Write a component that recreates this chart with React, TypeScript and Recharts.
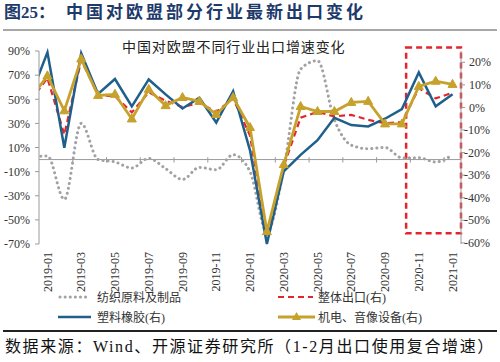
import React from 'react';
import { LineChart, Line, XAxis, YAxis, ReferenceLine, ReferenceArea } from 'recharts';

const months = [
  '2018-12',
  '2019-01', '2019-02', '2019-03', '2019-04', '2019-05', '2019-06', '2019-07', '2019-08', '2019-09', '2019-10', '2019-11', '2019-12',
  '2020-01', '2020-02', '2020-03', '2020-04', '2020-05', '2020-06', '2020-07', '2020-08', '2020-09', '2020-10', '2020-11', '2020-12',
  '2021-01',
];

// 纺织原料及制品 (left axis, %)
const textile = [2, 3, -33, 30, 0, -2, -7, 1, -7.5, -16.5, -6.5, -8.5, 4, -10, -60, -8, 75, 82, 33, 12, 9, 10, 1.5, 1.5, -2, 4];
// 整体出口(右)
const overall = [3, 13, -12, 21, 5.5, 5, -2.2, 6.7, 3, 0.2, 2, -2, 4, -12.5, -57, -26, -4.5, -2, -4, -3.3, -5.5, -7, -6.5, 8.5, 4, 6.5];
// 塑料橡胶(右)
const plastics = [5, 24.4, -17.9, 24, 6, 12.6, 0.5, 12.4, 5.8, -0.5, 4.3, -6.7, 7.2, -19, -60.5, -28.3, -21, -14.5, -4.6, -7.8, -8.4, -5, -0.7, 15.5, 0.5, 5.8];
// 机电、音像设备(右)
const electro = [4, 14, -1.5, 21.5, 5.3, 5.8, -5.1, 8, 0.8, 4.4, 2.7, -3.1, 4.4, -8.9, -55, -25.3, 0.4, -1.8, -1.8, 2.2, 2.7, -7.3, -7.3, 9.3, 11.6, 10.2];

const monthTicks = ['2019-01', '2019-03', '2019-05', '2019-07', '2019-09', '2019-11', '2020-01', '2020-03', '2020-05', '2020-07', '2020-09', '2020-11', '2021-01'];
const leftTicks = [-70, -50, -30, -10, 10, 30, 50, 70, 90];
const rightTicks = [-60, -50, -40, -30, -20, -10, 0, 10, 20];
const zeroLineTicks = [1.5, 3.5, 5.5, 7.5, 9.5, 11.5, 13.5, 15.5, 17.5, 19.5, 21.5, 23.5];

const seriesNames = {
  textile: '纺织原料及制品',
  overall: '整体出口(右)',
  plastics: '塑料橡胶(右)',
  electro: '机电、音像设备(右)',
};

const chartTitle = '中国对欧盟不同行业出口增速变化';
const figLabel = '图25：';
const figTitle = '中国对欧盟部分行业最新出口变化';
const sourceText = '数据来源：Wind、开源证券研究所（1-2月出口使用复合增速）';

const data = months.map((m, i) => ({
  pos: i - 1,
  month: m,
  textile: textile[i],
  overall: overall[i],
  plastics: plastics[i],
  electro: electro[i],
}));

const C = {
  gray: '#a2a2a2',
  red: '#e2262c',
  blue: '#1f5f8b',
  gold: '#c6a12c',
  axis: '#9a9a9a',
  text: '#333333',
};

const FONT = "'Liberation Serif', 'Noto Sans CJK SC', serif";

const MonthTick = (props: any) => {
  const { x, y, payload } = props;
  const label = months[payload.value + 1];
  return (
    <text
      x={x}
      y={y}
      transform={`rotate(-90 ${x} ${y})`}
      textAnchor="end"
      dy="0.35em"
      fontSize={12}
      fill={C.text}
      fontFamily={FONT}
    >
      {label}
    </text>
  );
};

const RightTick = (props: any) => {
  const { x, y, payload } = props;
  const v = payload.value;
  return (
    <text x={x + (v < 0 ? -5 : 0)} y={y} dy="0.35em" textAnchor="start" fontSize={12} fill={C.text} fontFamily={FONT}>
      {`${v}%`}
    </text>
  );
};

const GoldTriangle = (props: any) => {
  const { cx, cy } = props;
  if (cx == null || cy == null) return null;
  return (
    <polygon
      points={`${cx},${cy - 5} ${cx - 4.5},${cy + 3} ${cx + 4.5},${cy + 3}`}
      fill={C.gold}
      stroke={C.gold}
      strokeWidth={1}
    />
  );
};

const boxStart = months.indexOf('2020-11') - 1 - 0.75;

const LegendItem = ({ left, top, kind, label }: { left: number; top: number; kind: string; label: string }) => {
  let sample: React.ReactNode = null;
  if (kind === 'textile') {
    sample = <line x1={2} y1={6} x2={32} y2={6} stroke={C.gray} strokeWidth={3} strokeDasharray="0.1 5" strokeLinecap="round" />;
  } else if (kind === 'overall') {
    sample = <line x1={0} y1={6} x2={35} y2={6} stroke={C.red} strokeWidth={2.2} strokeDasharray="6 4" />;
  } else if (kind === 'plastics') {
    sample = <line x1={0} y1={6} x2={33} y2={6} stroke={C.blue} strokeWidth={2.5} />;
  } else {
    sample = (
      <g>
        <line x1={0} y1={6} x2={37} y2={6} stroke={C.gold} strokeWidth={2.8} />
        <polygon points="18.5,1 14,9 23,9" fill={C.gold} />
      </g>
    );
  }
  return (
    <div style={{ position: 'absolute', left, top, height: 14, display: 'flex', alignItems: 'center' }}>
      <svg width={40} height={12} style={{ display: 'block' }}>{sample}</svg>
      <span style={{ fontSize: 12, color: C.text, fontFamily: FONT, marginLeft: kind === 'textile' || kind === 'plastics' ? -1 : 0, whiteSpace: 'nowrap' }}>{label}</span>
    </div>
  );
};

export default function App() {
  return (
    <div
      style={{
        position: 'absolute',
        left: 0,
        top: 0,
        width: 500,
        height: 362,
        background: '#fff',
        overflow: 'hidden',
        fontFamily: FONT,
      }}
    >
      <div style={{ position: 'absolute', left: 4, top: 3, fontSize: 17, fontWeight: 'bold', color: '#1d3a6b', whiteSpace: 'nowrap', lineHeight: '20px' }}>
        {figLabel}
      </div>
      <div style={{ position: 'absolute', left: 66, top: 3, fontSize: 17, fontWeight: 'bold', color: '#1d3a6b', letterSpacing: 3, whiteSpace: 'nowrap', lineHeight: '20px' }}>
        {figTitle}
      </div>
      <div style={{ position: 'absolute', left: 3, top: 29, width: 494, height: 2, background: '#a8a8a8' }} />

      <div style={{ position: 'absolute', left: 0, top: 0 }}>
        <LineChart width={500} height={362} data={data} margin={{ top: 51, right: 0, bottom: 58, left: 0 }}>
          <XAxis
            dataKey="pos"
            type="number"
            domain={[-0.5, 24.5]}
            allowDataOverflow
            ticks={monthTicks.map((m) => months.indexOf(m) - 1)}
            interval={0}
            tick={<MonthTick />}
            tickLine={false}
            axisLine={false}
            tickSize={0}
            tickMargin={8}
            height={60}
          />
          <YAxis
            yAxisId="left"
            orientation="left"
            width={39}
            domain={[-70, 90]}
            ticks={leftTicks}
            interval={0}
            tickSize={4}
            tickMargin={5}
            axisLine={{ stroke: C.axis }}
            tickLine={{ stroke: C.axis }}
            tick={{ fontSize: 12, fill: C.text, fontFamily: FONT }}
            tickFormatter={(v: number) => `${v}%`}
          />
          <YAxis
            yAxisId="right"
            orientation="right"
            width={39}
            domain={[-60, 25]}
            ticks={rightTicks}
            interval={0}
            tickSize={4}
            tickMargin={4}
            axisLine={{ stroke: C.axis }}
            tickLine={{ stroke: C.axis }}
            tick={<RightTick />}
          />
          <ReferenceLine yAxisId="left" y={0} stroke={C.axis} strokeWidth={1} />
          {zeroLineTicks.map((t) => (
            <ReferenceLine
              key={t}
              yAxisId="left"
              segment={[{ x: t, y: -2.5 }, { x: t, y: 2 }]}
              stroke={C.axis}
              strokeWidth={1}
            />
          ))}
          <Line
            yAxisId="left"
            dataKey="textile"
            name={seriesNames.textile}
            type="monotone"
            stroke={C.gray}
            strokeWidth={3}
            strokeDasharray="0.1 5"
            strokeLinecap="round"
            dot={false}
            activeDot={false}
            isAnimationActive={false}
          />
          <Line
            yAxisId="right"
            dataKey="overall"
            name={seriesNames.overall}
            type="linear"
            stroke={C.red}
            strokeWidth={2.2}
            strokeDasharray="6 4"
            dot={false}
            activeDot={false}
            isAnimationActive={false}
          />
          <Line
            yAxisId="right"
            dataKey="plastics"
            name={seriesNames.plastics}
            type="linear"
            stroke={C.blue}
            strokeWidth={2.5}
            dot={false}
            activeDot={false}
            isAnimationActive={false}
          />
          <Line
            yAxisId="right"
            dataKey="electro"
            name={seriesNames.electro}
            type="linear"
            stroke={C.gold}
            strokeWidth={2.8}
            dot={<GoldTriangle />}
            activeDot={false}
            isAnimationActive={false}
          />
          <ReferenceArea
            yAxisId="left"
            x1={boxStart}
            x2={24.5}
            y1={-61}
            y2={93}
            fill="none"
            fillOpacity={0}
            stroke={C.red}
            strokeWidth={2.5}
            strokeDasharray="6 4"
            ifOverflow="visible"
          />
        </LineChart>
      </div>

      <div style={{ position: 'absolute', left: 122, top: 40, fontSize: 14, letterSpacing: 0.9, color: '#222', whiteSpace: 'nowrap', lineHeight: '16px' }}>
        {chartTitle}
      </div>

      <LegendItem left={58} top={290} kind="textile" label={seriesNames.textile} />
      <LegendItem left={278} top={290} kind="overall" label={seriesNames.overall} />
      <LegendItem left={58} top={310} kind="plastics" label={seriesNames.plastics} />
      <LegendItem left={278} top={310} kind="electro" label={seriesNames.electro} />

      <div style={{ position: 'absolute', left: 3, top: 330, width: 494, height: 2, background: '#222' }} />
      <div style={{ position: 'absolute', left: 5, top: 338, fontSize: 16, letterSpacing: 1.6, color: '#111', whiteSpace: 'nowrap', lineHeight: '18px' }}>
        {sourceText}
      </div>
    </div>
  );
}
